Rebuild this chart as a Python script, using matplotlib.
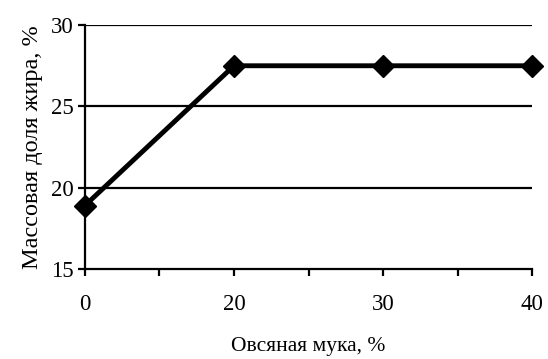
import numpy as np
import matplotlib
matplotlib.use("Agg")
import matplotlib.pyplot as plt
from matplotlib.ticker import MultipleLocator

# data
oat_flour = ["0", "20", "30", "40"]
fat_share = [18.9, 27.5, 27.5, 27.5]

plt.rcParams["font.family"] = ["Liberation Serif", "DejaVu Serif"]

fig = plt.figure(figsize=(5.48, 3.59), dpi=100)
ax = fig.add_axes([0.155, 0.251, 0.816, 0.679])

x = np.arange(len(oat_flour))
ax.plot(x, fat_share, color="black", linewidth=3.5, marker="D", markersize=11.5,
        solid_capstyle="butt", zorder=3, clip_on=False)

ax.set_xlim(0, len(oat_flour) - 1)
ax.set_ylim(15, 30)
ax.yaxis.set_major_locator(MultipleLocator(5))
ax.set_xticks(x)
ax.set_xticklabels(oat_flour)
ax.set_xticks(x[:-1] + 0.5, minor=True)

for yv in (20, 25, 30):
    ax.axhline(yv, color="black", linewidth=1.6, zorder=1)

for s in ("top", "right"):
    ax.spines[s].set_visible(False)
for s in ("left", "bottom"):
    ax.spines[s].set_linewidth(1.6)

ax.tick_params(axis="both", which="both", direction="out", width=1.6,
               length=5, labelsize=16.5, colors="black")
ax.tick_params(axis="x", pad=13)
ax.tick_params(axis="y", pad=3)

ax.set_xlabel("Овсяная мука, %", fontsize=15.5, labelpad=16)
ax.set_ylabel("Массовая доля жира, %", fontsize=17.5, labelpad=6)

fig.savefig("out.png", dpi=100)
